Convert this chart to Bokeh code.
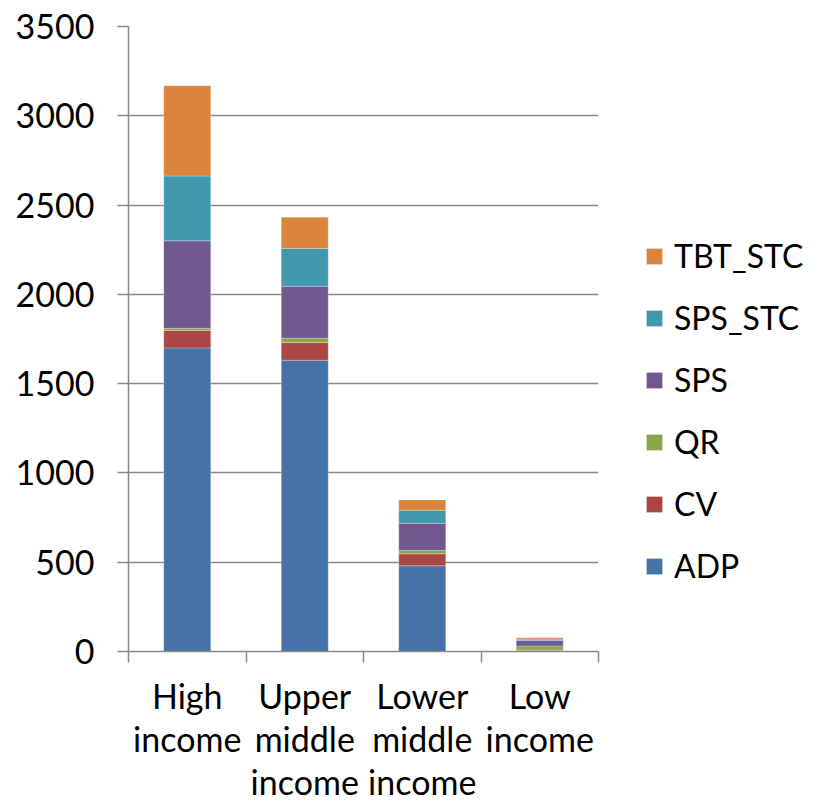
from bokeh.plotting import figure
from bokeh.models import Range1d, FixedTicker, Legend, LegendItem, ColumnDataSource
from bokeh.embed import file_html
from bokeh.resources import INLINE

categories = ["High\nincome", "Upper\nmiddle\nincome", "Lower\nmiddle\nincome", "Low\nincome"]
ADP = [1700, 1631, 480, 6]
CV = [98, 99, 67, 3]
QR = [12, 25, 19, 22]
SPS = [490, 290, 152, 30]
SPS_STC = [363, 212, 73, 8]
TBT_STC = [505, 175, 58, 8]

series = ["ADP", "CV", "QR", "SPS", "SPS_STC", "TBT_STC"]
colors = ["#4572A7", "#AA4643", "#89A54E", "#71588F", "#4198AF", "#DB843D"]
y_ticks = [0, 500, 1000, 1500, 2000, 2500, 3000, 3500]

FONT = "Lato"
GRID = "#8a8a8a"

xpos = [i + 0.5 for i in range(len(categories))]
source = ColumnDataSource(dict(x=xpos, ADP=ADP, CV=CV, QR=QR, SPS=SPS,
                               SPS_STC=SPS_STC, TBT_STC=TBT_STC))

p = figure(frame_width=470, frame_height=625, output_backend="svg", toolbar_location=None,
           x_range=Range1d(0, len(categories)), y_range=Range1d(0, 3500),
           min_border_left=128, min_border_right=0, min_border_top=26,
           min_border_bottom=150)
p.outline_line_color = None

renderers = p.vbar_stack(series, x="x", width=0.4, color=colors, source=source,
                         line_color="white", line_width=0.5, line_alpha=0.5)

# y axis
p.yaxis.ticker = FixedTicker(ticks=y_ticks)
p.yaxis.minor_tick_line_color = None
p.yaxis.major_tick_in = 0
p.yaxis.major_tick_out = 11
p.yaxis.axis_line_color = GRID
p.yaxis.axis_line_width = 1.5
p.yaxis.major_tick_line_color = GRID
p.yaxis.major_tick_line_width = 1.5
p.yaxis.major_label_text_font = FONT
p.yaxis.major_label_text_font_size = "34px"
p.yaxis.major_label_text_color = "black"
p.yaxis.major_label_standoff = 23

# x axis
p.xaxis.ticker = FixedTicker(ticks=xpos, minor_ticks=list(range(len(categories) + 1)))
p.xaxis.major_label_overrides = {x: c for x, c in zip(xpos, categories)}
p.xaxis.major_tick_line_color = None
p.xaxis.minor_tick_in = 0
p.xaxis.minor_tick_out = 11
p.xaxis.minor_tick_line_color = GRID
p.xaxis.minor_tick_line_width = 1.5
p.xaxis.axis_line_color = GRID
p.xaxis.axis_line_width = 1.5
p.xaxis.major_label_text_font = FONT
p.xaxis.major_label_text_font_size = "34px"
p.xaxis.major_label_text_color = "black"
p.xaxis.major_label_text_line_height = 1.05
p.xaxis.major_label_standoff = 12

p.xgrid.grid_line_color = None
p.ygrid.grid_line_color = GRID
p.ygrid.grid_line_width = 1.5

items = [LegendItem(label=s, renderers=[r]) for s, r in zip(series, renderers)]
items.reverse()
legend = Legend(items=items, location=(46, 66), padding=0, margin=0,
                border_line_color=None, background_fill_alpha=0,
                glyph_width=20, glyph_height=20, spacing=23,
                label_text_font=FONT, label_text_font_size="32px",
                label_text_color="black", label_standoff=10)
p.add_layout(legend, "right")

open("out.html", "w").write(file_html(p, INLINE))
